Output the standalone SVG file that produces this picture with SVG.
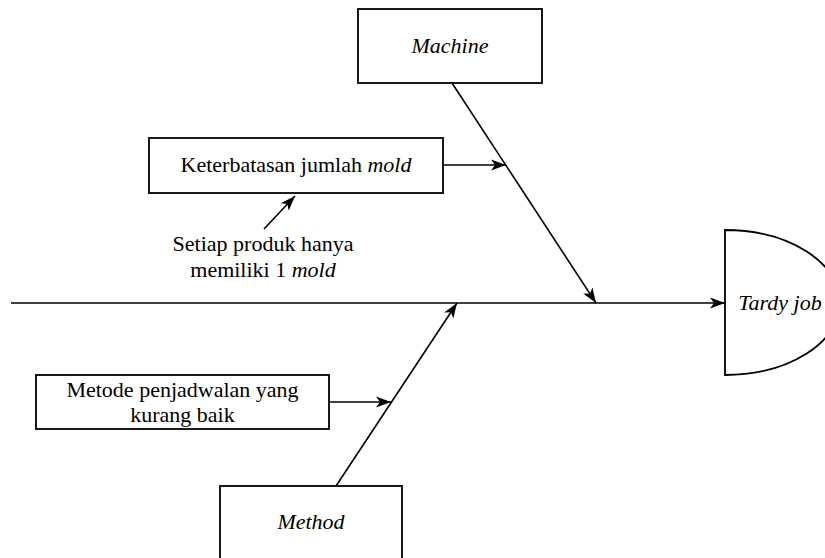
<svg xmlns="http://www.w3.org/2000/svg" width="825" height="558" viewBox="0 0 825 558">
<style>
.box{fill:#fff;stroke:#000;stroke-width:1.8}
.ln{fill:none;stroke:#000;stroke-width:1.6;marker-end:url(#ah)}
text{font-family:"Liberation Serif","Times New Roman",serif;font-size:22px;fill:#000;text-anchor:middle}
.it{font-style:italic}
</style>
<defs>
<marker id="ah" markerUnits="userSpaceOnUse" markerWidth="17" markerHeight="13" refX="15" refY="6" orient="auto" viewBox="0 0 17 12">
<path d="M0,0.5 L15,6 L0,11.5 L4,6 Z" fill="#000"/>
</marker>
</defs>
<rect width="825" height="558" fill="#fff"/>
<g id="connectors">
<line class="ln" x1="11" y1="303" x2="725" y2="303"/>
<line class="ln" x1="452" y1="83" x2="596" y2="303"/>
<line class="ln" x1="336" y1="486" x2="457" y2="303"/>
<line class="ln" x1="443" y1="165" x2="506" y2="165"/>
<line class="ln" x1="264" y1="229" x2="295" y2="196"/>
<line class="ln" x1="329" y1="402" x2="391" y2="402"/>
</g>
<g id="machine">
<rect class="box" x="358" y="9" width="184" height="74"/>
<text class="it" x="450" y="53">Machine</text>
</g>
<g id="keterbatasan">
<rect class="box" x="149" y="138" width="294" height="55"/>
<text x="296" y="172">Keterbatasan jumlah <tspan class="it">mold</tspan></text>
</g>
<g id="setiap">
<text x="263" y="251">Setiap produk hanya</text>
<text x="263" y="277">memiliki 1 <tspan class="it">mold</tspan></text>
</g>
<g id="tardy">
<path class="box" d="M725,230 A115,72.5 0 0 1 725,375 Z"/>
<text class="it" x="780" y="310">Tardy job</text>
</g>
<g id="metode">
<rect class="box" x="36" y="375" width="293" height="54"/>
<text x="182.5" y="397">Metode penjadwalan yang</text>
<text x="182.5" y="422">kurang baik</text>
</g>
<g id="method">
<rect class="box" x="220" y="486" width="182" height="74"/>
<text class="it" x="311" y="529">Method</text>
</g>
</svg>
